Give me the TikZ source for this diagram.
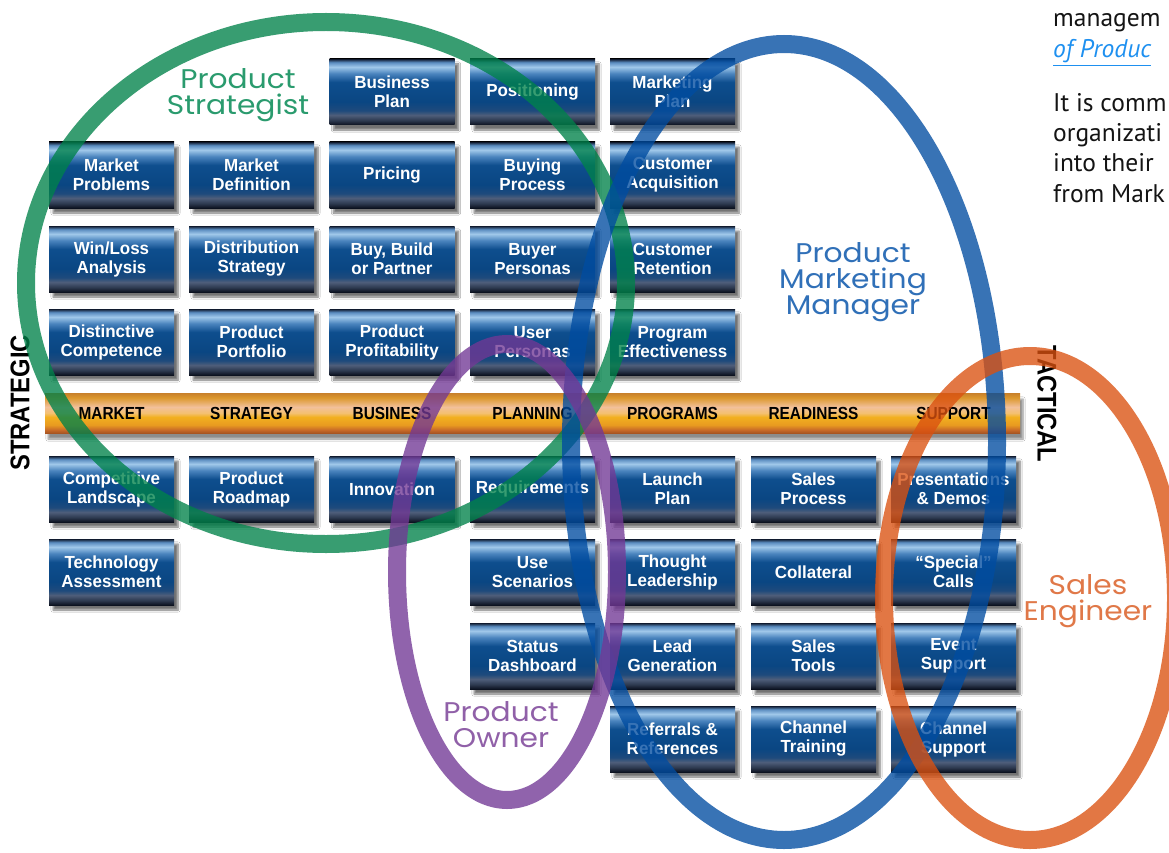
\documentclass[tikz,border=0pt]{standalone}
\usepackage{fontspec}
\setmainfont{Liberation Sans}
\newfontfamily\boxfont{Liberation Sans}[FakeStretch=0.97]
\newfontfamily\bandfont{Liberation Sans}[FakeStretch=0.88]
\newfontfamily\handfont{Poppins}[FakeStretch=1.1]
\newfontfamily\bodyfont{PT Sans}
\usetikzlibrary{shadows.blur}

\definecolor{bx0}{HTML}{101A2E}
\definecolor{bx1}{HTML}{5A8CC0}
\definecolor{bx2}{HTML}{A0C8EA}
\definecolor{bx3}{HTML}{4A84BE}
\definecolor{bx4}{HTML}{0E4E8E}
\definecolor{bx5}{HTML}{0A4682}
\definecolor{bx6}{HTML}{1E4A7C}
\definecolor{bx7}{HTML}{4E5E7A}
\definecolor{bx8}{HTML}{2E3A50}
\definecolor{bx9}{HTML}{0C1220}

\definecolor{bd0}{HTML}{C8802A}
\definecolor{bd1}{HTML}{DC982E}
\definecolor{bd2}{HTML}{F2C09A}
\definecolor{bd3}{HTML}{F4C070}
\definecolor{bd4}{HTML}{F2B020}
\definecolor{bd5}{HTML}{E89A20}
\definecolor{bd6}{HTML}{C86A28}
\definecolor{bd7}{HTML}{A85522}

\definecolor{gstr}{RGB}{0,130,74}
\definecolor{bstr}{RGB}{0,76,161}
\definecolor{pstr}{RGB}{114,56,149}
\definecolor{ostr}{RGB}{219,81,16}
\definecolor{gtxt}{RGB}{42,155,110}
\definecolor{btxt}{RGB}{48,112,184}
\definecolor{ptxt}{RGB}{144,96,168}
\definecolor{otxt}{RGB}{224,120,72}
\definecolor{linkc}{RGB}{30,144,240}
\definecolor{bodyc}{RGB}{20,20,20}

\pgfdeclareverticalshading{boxsh}{100bp}{color(0bp)=(bx9); color(25bp)=(bx9); color(28.5bp)=(bx8); color(32.5bp)=(bx7); color(36bp)=(bx6); color(42.5bp)=(bx5); color(57.5bp)=(bx4); color(64bp)=(bx3); color(69bp)=(bx2); color(72.5bp)=(bx1); color(75bp)=(bx0); color(100bp)=(bx0)}
\pgfdeclareverticalshading{bandsh}{100bp}{color(0bp)=(bd7); color(25bp)=(bd7); color(29bp)=(bd6); color(35bp)=(bd5); color(45bp)=(bd4); color(50bp)=(bd3); color(57.5bp)=(bd2); color(69bp)=(bd1); color(75bp)=(bd0); color(100bp)=(bd0)}

\tikzset{
  pbox/.style={shade, shading=boxsh, minimum width=125pt, minimum height=66pt,
    inner sep=0pt, text=white, align=center,
    font=\boxfont\bfseries\fontsize{17.5}{19}\selectfont,
    blur shadow={shadow xshift=4pt, shadow yshift=-5pt, shadow blur steps=6, shadow opacity=55}},
  bandlbl/.style={text=black, font=\bandfont\bfseries\fontsize{17.5}{19}\selectfont, inner sep=0pt},
  sidelbl/.style={text=black, font=\bandfont\bfseries\fontsize{27}{28}\selectfont, inner sep=0pt},
  hand/.style={align=center, inner sep=0pt, font=\handfont\fontsize{27}{26}\selectfont},
  ring/.style={line width=18pt, opacity=0.78},
  body/.style={anchor=base west, inner sep=0pt, text=bodyc, font=\bodyfont\fontsize{25.5}{30}\selectfont}
}

\begin{document}
\begin{tikzpicture}[x=1pt,y=-1pt]
\useasboundingbox (0,0) rectangle (1169,853);
\clip (0,0) rectangle (1169,853);
\fill[white] (0,0) rectangle (1169,853);

% band
\node[shade, shading=bandsh, minimum width=975pt, minimum height=40pt, inner sep=0pt,
  blur shadow={shadow xshift=3pt, shadow yshift=-6pt, shadow blur steps=6, shadow opacity=45}]
  (band) at (532.5,413) {};
\node[bandlbl] (lmarket) at (111.5,413) {MARKET};
\node[bandlbl] (lstrategy) at (251.5,413) {STRATEGY};
\node[bandlbl] (lbusiness) at (392,413) {BUSINESS};
\node[bandlbl] (lplanning) at (532.5,413) {PLANNING};
\node[bandlbl] (lprograms) at (672.5,413) {PROGRAMS};
\node[bandlbl] (lreadiness) at (813.5,413) {READINESS};
\node[bandlbl] (lsupport) at (953.5,413) {SUPPORT};

\node[sidelbl, rotate=90] (strategic) at (20,403) {STRATEGIC};
\node[sidelbl, rotate=-90] (tactical) at (1047,404) {TACTICAL};

% row 1
\node[pbox] (bizplan) at (392,92) {Business\\Plan};
\node[pbox] (positioning) at (532.5,92) {Positioning};
\node[pbox] (mktplan) at (672.5,92) {Marketing\\Plan};
% row 2
\node[pbox] (mktprob) at (111.5,175) {Market\\Problems};
\node[pbox] (mktdef) at (251.5,175) {Market\\Definition};
\node[pbox] (pricing) at (392,175) {Pricing};
\node[pbox] (buying) at (532.5,175) {Buying\\Process};
\node[pbox] (custacq) at (672.5,175) {Customer\\Acquisition};
% row 3
\node[pbox] (winloss) at (111.5,259) {Win/Loss\\Analysis};
\node[pbox] (distrib) at (251.5,259) {Distribution\\Strategy};
\node[pbox] (buybuild) at (392,259) {Buy, Build\\or Partner};
\node[pbox] (buyerp) at (532.5,259) {Buyer\\Personas};
\node[pbox] (custret) at (672.5,259) {Customer\\Retention};
% row 4
\node[pbox] (distinct) at (111.5,342) {Distinctive\\Competence};
\node[pbox] (portfolio) at (251.5,342) {Product\\Portfolio};
\node[pbox] (profit) at (392,342) {Product\\Profitability};
\node[pbox] (userp) at (532.5,342) {User\\Personas};
\node[pbox] (progeff) at (672.5,342) {Program\\Effectiveness};
% row 5
\node[pbox] (complands) at (111.5,489) {Competitive\\Landscape};
\node[pbox] (roadmap) at (251.5,489) {Product\\Roadmap};
\node[pbox] (innov) at (392,489) {Innovation};
\node[pbox] (reqs) at (532.5,489) {Requirements};
\node[pbox] (launch) at (672.5,489) {Launch\\Plan};
\node[pbox] (salesproc) at (813.5,489) {Sales\\Process};
\node[pbox] (presdemo) at (953.5,489) {Presentations\\\&{} Demos};
% row 6
\node[pbox] (techass) at (111.5,572) {Technology\\Assessment};
\node[pbox] (usescen) at (532.5,572) {Use\\Scenarios};
\node[pbox] (thought) at (672.5,572) {Thought\\Leadership};
\node[pbox] (collat) at (813.5,572) {Collateral};
\node[pbox] (special) at (953.5,572) {“Special”\\Calls};
% row 7
\node[pbox] (status) at (532.5,656) {Status\\Dashboard};
\node[pbox] (leadgen) at (672.5,656) {Lead\\Generation};
\node[pbox] (salestools) at (813.5,656) {Sales\\Tools};
\node[pbox] (event) at (953.5,656) {Event\\Support};
% row 8
\node[pbox] (referrals) at (672.5,739) {Referrals \&\\References};
\node[pbox] (chtrain) at (813.5,739) {Channel\\Training};
\node[pbox] (chsupp) at (953.5,739) {Channel\\Support};

% role ellipses
\draw[ring, draw=gstr] (326,283) ellipse [x radius=300, y radius=261];
\draw[ring, draw=bstr] (784,442) ellipse [x radius=213, y radius=398];
\draw[ring, draw=pstr] (507,572) ellipse [x radius=110, y radius=228];
\draw[ring, draw=ostr] (1030,598) ellipse [x radius=146, y radius=242];

% role labels
\node[hand, text=gtxt] (rstrat) at (238,95) {Product\\Strategist};
\node[hand, text=btxt] (rpmm) at (853,282) {Product\\Marketing\\Manager};
\node[hand, text=ptxt] (rowner) at (501,725) {Product\\Owner};
\node[hand, text=otxt] (rse) at (1088,601) {Sales\\Engineer};

% body text (right edge)
\node[body] (t1) at (1053,27) {managem};
\node[body, text=linkc] (t2) at (1053,58) {\itshape\underline{of Produc}};
\node[body] (t3) at (1053,112) {It is comm};
\node[body] (t4) at (1053,142) {organizati};
\node[body] (t5) at (1053,172) {into their};
\node[body] (t6) at (1053,202) {from Mark};
\end{tikzpicture}
\end{document}
